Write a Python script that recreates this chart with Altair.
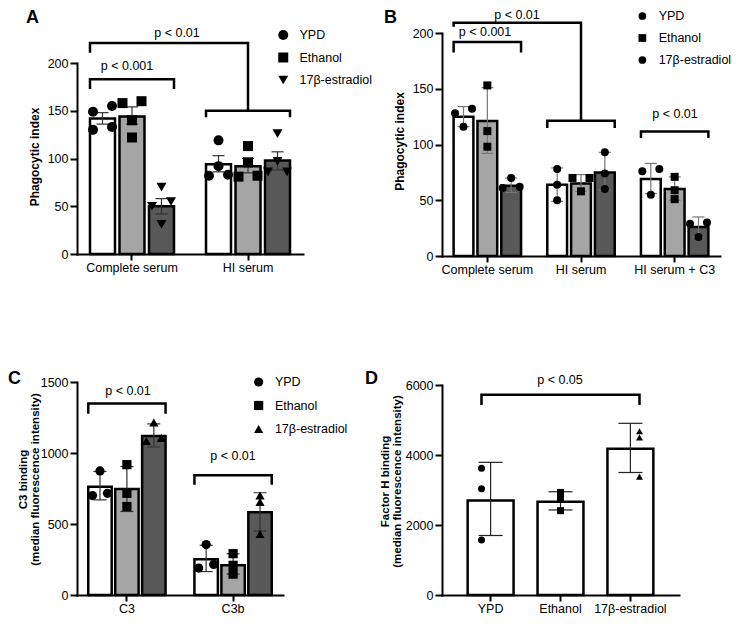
import altair as alt
import pandas as pd

FONT = "Liberation Sans"
OX, OY = 8, 8          # page position of the view origin
W, H = 728, 609        # view size

GROUPS = ["YPD", "Ethanol", "17β-estradiol"]
BAR_FILLS = ["#ffffff", "#a5a5a5", "#585858"]

# ---------------- data ----------------
# Panel A : phagocytic index (mean, error ends, individual points)
A_CATS = ["Complete serum", "HI serum"]
A_MEAN = [[142, 144, 50], [94, 92, 98]]
A_LO = [[136, 136, 42], [86, 85, 88]]
A_HI = [[148, 154, 58], [103, 100, 107]]
A_PTS = [[[149, 155, 130, 133], [158, 160, 140, 122], [70, 55, 50, 31]],
         [[119, 92, 82, 83], [113, 96, 82, 81], [126, 97, 86, 86]]]

# Panel B
B_CATS = ["Complete serum", "HI serum", "HI serum + C3"]
B_MEAN = [[125, 121, 63], [64, 65, 75], [69, 60, 26]]
B_LO = [[116, 92, 57], [49, 58, 59], [56, 50, 17]]
B_HI = [[134, 151, 70], [79, 73, 93], [83, 71, 35]]
B_PTS = [[[132, 128, 116], [153, 112, 98], [70, 61, 62]],
         [[78, 64, 50], [70, 70, 58], [93, 74, 60]],
         [[78, 76, 55], [71, 59, 51], [30, 29, 17]]]

# Panel C : C3 binding
C_CATS = ["C3", "C3b"]
C_MEAN = [[763, 747, 1119], [251, 209, 583]]
C_LO = [[670, 588, 1042], [165, 147, 450]]
C_HI = [[870, 905, 1205], [350, 291, 720]]
C_PTS = [[[874, 700, 716], [918, 716, 623], [1215, 1105, 1085]],
         [[355, 215, 190], [291, 209, 147], [700, 655, 430]]]

# Panel D : factor H binding
D_MEAN = [2703, 2665, 4178]
D_LO = [1700, 2430, 3500]
D_HI = [3790, 2950, 4905]
D_PTS = [[3620, 3034, 1569], [2930, 2741, 2410], [4679, 4499, 3383]]

# significance brackets (data units): (cat1, group1, cat2, group2, top, leg1, leg2)
A_BR = [("Complete serum", "YPD", "Complete serum", "17β-estradiol", 183, 174, 174),
        ("Complete serum", "YPD", "HI serum", "Ethanol", 221, 212, 150),
        ("HI serum", "YPD", "HI serum", "17β-estradiol", 150, 144.5, 144.5)]
A_TXT = [("p < 0.001", 192.7), ("p < 0.01", 227.5)]
B_BR = [("Complete serum", "YPD", "Complete serum", "17β-estradiol", 192, 183.6, 183.6),
        ("Complete serum", "YPD", "HI serum", "Ethanol", 209.3, 206.7, 121.3),
        ("HI serum", "YPD", "HI serum", "17β-estradiol", 121.3, 116, 116),
        ("HI serum + C3", "YPD", "HI serum + C3", "17β-estradiol", 111.7, 107, 107)]
B_TXT = [("p < 0.001", 197.7), ("p < 0.01", 212.9), ("p < 0.01", 124)]
C_BR = [("C3", "YPD", "C3", "17β-estradiol", 1349, 1286, 1286),
        ("C3b", "YPD", "C3b", "17β-estradiol", 844, 786, 786)]
C_TXT = [("p < 0.01", 1410), ("p < 0.01", 949)]
D_BR = [("YPD", "17β-estradiol", 5718, 5463, 5463)]
D_TXT = [("p < 0.05", 6020)]

# ---------------- layout (page pixels) ----------------
CFG_A = dict(x0=77, x1=303, y0=254, ytop=63, ymax=200, pi=0.276, po=0.112, pi2=0.153,
             yticks=[0, 50, 100, 150, 200], title="Phagocytic index", tx=-43, ty=156.5, tfs=12,
             shapes=["circle", "square", "triangle-down"], psize=100, dx=9.5, thr=8, ppu=0.955,
             ecol="#333333", cap=12, leg=(282, 35, 22, 100), txt_x=[127, 177])
CFG_B = dict(x0=442, x1=720, y0=256, ytop=33, ymax=200, pi=0.28, po=0.124, pi2=0.17,
             yticks=[0, 50, 100, 150, 200], title="Phagocytic index", tx=-42.5, ty=141, tfs=12,
             shapes=["circle", "square", "circle"], psize=64, dx=8.5, thr=7, ppu=1.113,
             ecol="#777777", cap=12, leg=(640, 16, 21.5, 60), txt_x=[485, 517, 675])
CFG_C = dict(x0=77, x1=283, y0=595, ytop=382, ymax=1500, pi=0.272, po=0.106, pi2=0.13,
             yticks=[0, 500, 1000, 1500], title=["C3 binding", "(median fluorescence intensity)"],
             tx=-54, ty=479, tfs=11.5,
             shapes=["circle", "square", "triangle-up"], psize=85, dx=7.5, thr=5, ppu=0.1433,
             ecol="#333333", cap=13, leg=(257, 382, 23, 85), txt_x=[128, 233])
CFG_D = dict(x0=442, x1=679, y0=595, ytop=385, ymax=6000, pi=0.343, po=0.367,
             yticks=[0, 2000, 4000, 6000], title=["Factor H binding", "(median fluorescence intensity)"],
             tx=-57, ty=481, tfs=11.5, shapes=["circle", "square", "triangle-up"], psize=49,
             ecol="#222222", cap=24, txt_x=[560])


def px(x):
    return x - OX


def py(y):
    return y - OY


def slots(values, ppu, thr):
    """Spread points that would overlap side by side, like a scatter-dot plot."""
    order = sorted(range(len(values)), key=lambda i: values[i])
    res = [0] * len(values)
    clusters, cur = [], [order[0]]
    for i in order[1:]:
        if (values[i] - values[cur[-1]]) * ppu < thr:
            cur.append(i)
        else:
            clusters.append(cur)
            cur = [i]
    clusters.append(cur)
    pats = {1: [0], 2: [-1, 1], 3: [-1, 0, 1], 4: [-1, 0, 1, 0]}
    for c in clusters:
        for idx, s in zip(c, pats[len(c)]):
            res[idx] = s
    return res


def axes(cfg):
    xaxis = alt.Axis(orient="bottom", offset=py(cfg["y0"]) - H, title=None, labelAngle=0,
                     labelPadding=1, tickSize=6)
    yaxis = alt.Axis(orient="left", offset=-px(cfg["x0"]), values=cfg["yticks"], format="d",
                     title=cfg["title"], titleX=cfg["tx"], titleY=py(cfg["ty"]), titleAngle=270,
                     titleAlign="center", titleBaseline="middle", titleFontSize=cfg["tfs"],
                     titleFontWeight="bold", titleLineHeight=12.5, labelPadding=2, tickSize=7)
    return xaxis, yaxis


def text_layers(labels, cfg, ys):
    out = []
    for (txt, val), xp in zip(labels, cfg["txt_x"]):
        out.append(alt.Chart(pd.DataFrame({"t": [txt]})).mark_text(
            font=FONT, fontSize=12.5, align="center", baseline="alphabetic", color="black"
        ).encode(text="t:N", x=alt.value(px(xp)), y=alt.YDatum(val, scale=ys, axis=None)))
    return out


def legend_for(cfg):
    lx, ly, row, lsize = cfg["leg"]
    d = lsize ** 0.5
    return alt.Legend(orient="none", legendX=px(lx) - d / 2, legendY=py(ly) - 6.25, title=None,
                      symbolSize=lsize, rowPadding=row - 12.5, labelOffset=10,
                      labelFontSize=12.5, labelFont=FONT, labelColor="black",
                      symbolFillColor="black", symbolStrokeWidth=0, padding=0)


def grouped_panel(cats, mean, lo, hi, pts, brackets, labels, cfg):
    n = len(cats)
    step = (cfg["x1"] - cfg["x0"]) / (n - cfg["pi"] + 2 * cfg["po"])
    bw = step * (1 - cfg["pi"])
    step2 = bw / (3 - cfg["pi2"])
    c0 = step2 * (1 - cfg["pi2"]) / 2
    jit = cfg["dx"] / step2

    bdf = pd.DataFrame([dict(cat=c, group=g, mean=mean[i][j], lo=lo[i][j], hi=hi[i][j])
                        for i, c in enumerate(cats) for j, g in enumerate(GROUPS)])
    prow = []
    for i, c in enumerate(cats):
        for j, g in enumerate(GROUPS):
            vals = pts[i][j]
            for v, s in zip(vals, slots(vals, cfg["ppu"], cfg["thr"])):
                prow.append(dict(cat=c, group=g, value=v, pos=j + s * jit))
    pdf = pd.DataFrame(prow)
    brow = []
    for k, (c1, g1, c2, g2, top, l1, l2) in enumerate(brackets):
        for o, (c, g, v) in enumerate([(c1, g1, l1), (c1, g1, top), (c2, g2, top), (c2, g2, l2)]):
            brow.append(dict(bid=k, ord=o, cat=c, group=g, value=v))
    brdf = pd.DataFrame(brow)

    xs = alt.Scale(domain=cats, range=[px(cfg["x0"]), px(cfg["x1"])],
                   paddingInner=cfg["pi"], paddingOuter=cfg["po"])
    xos = alt.Scale(domain=GROUPS, paddingInner=cfg["pi2"], paddingOuter=0)
    ys = alt.Scale(domain=[0, cfg["ymax"]], range=[py(cfg["y0"]), py(cfg["ytop"])], nice=False)
    xaxis, yaxis = axes(cfg)

    def X(ax=None):
        return alt.X("cat:N", scale=xs, axis=ax)

    def XO():
        return alt.XOffset("group:N", scale=xos)

    bars = alt.Chart(bdf).mark_bar(stroke="black", strokeWidth=2.5).encode(
        x=X(xaxis), xOffset=XO(), y=alt.Y("mean:Q", scale=ys, axis=yaxis),
        fill=alt.Fill("group:N", scale=alt.Scale(domain=GROUPS, range=BAR_FILLS), legend=None))
    err = alt.Chart(bdf).mark_rule(color=cfg["ecol"], strokeWidth=1.2).encode(
        x=X(), xOffset=XO(), y=alt.Y("lo:Q", scale=ys, axis=None), y2="hi:Q")
    cap_lo = alt.Chart(bdf).mark_tick(orient="horizontal", size=cfg["cap"], thickness=1.2,
                                      color=cfg["ecol"], opacity=1).encode(
        x=X(), xOffset=XO(), y=alt.Y("lo:Q", scale=ys, axis=None))
    cap_hi = alt.Chart(bdf).mark_tick(orient="horizontal", size=cfg["cap"], thickness=1.2,
                                      color=cfg["ecol"], opacity=1).encode(
        x=X(), xOffset=XO(), y=alt.Y("hi:Q", scale=ys, axis=None))
    points = alt.Chart(pdf).mark_point(
        filled=True, color="black", size=cfg["psize"], opacity=1, strokeWidth=0
    ).encode(
        x=alt.X("cat:N", scale=xs, axis=None, bandPosition=0),
        xOffset=alt.XOffset("pos:Q", scale=alt.Scale(domain=[0, 2], range=[c0, c0 + 2 * step2])),
        y=alt.Y("value:Q", scale=ys, axis=None),
        shape=alt.Shape("group:N", scale=alt.Scale(domain=GROUPS, range=cfg["shapes"]),
                        legend=legend_for(cfg)))
    br = alt.Chart(brdf).mark_line(color="black", strokeWidth=2.5, strokeCap="square",
                                   strokeJoin="miter").encode(
        x=X(), xOffset=XO(), y=alt.Y("value:Q", scale=ys, axis=None), detail="bid:N", order="ord:Q")
    return [bars, err, cap_lo, cap_hi, points, br] + text_layers(labels, cfg, ys)


def simple_panel(mean, lo, hi, pts, brackets, labels, cfg):
    bdf = pd.DataFrame([dict(group=g, mean=mean[j], lo=lo[j], hi=hi[j]) for j, g in enumerate(GROUPS)])
    pdf = pd.DataFrame([dict(group=g, value=v) for j, g in enumerate(GROUPS) for v in pts[j]])
    brow = []
    for k, (g1, g2, top, l1, l2) in enumerate(brackets):
        for o, (g, v) in enumerate([(g1, l1), (g1, top), (g2, top), (g2, l2)]):
            brow.append(dict(bid=k, ord=o, group=g, value=v))
    brdf = pd.DataFrame(brow)
    xs = alt.Scale(domain=GROUPS, range=[px(cfg["x0"]), px(cfg["x1"])],
                   paddingInner=cfg["pi"], paddingOuter=cfg["po"])
    ys = alt.Scale(domain=[0, cfg["ymax"]], range=[py(cfg["y0"]), py(cfg["ytop"])], nice=False)
    xaxis, yaxis = axes(cfg)

    def X(ax=None):
        return alt.X("group:N", scale=xs, axis=ax)

    bars = alt.Chart(bdf).mark_bar(fill="white", stroke="black", strokeWidth=2.5).encode(
        x=X(xaxis), y=alt.Y("mean:Q", scale=ys, axis=yaxis))
    err = alt.Chart(bdf).mark_rule(color=cfg["ecol"], strokeWidth=1.2).encode(
        x=X(), y=alt.Y("lo:Q", scale=ys, axis=None), y2="hi:Q")
    cap_lo = alt.Chart(bdf).mark_tick(orient="horizontal", size=cfg["cap"], thickness=1.2,
                                      color=cfg["ecol"], opacity=1).encode(
        x=X(), y=alt.Y("lo:Q", scale=ys, axis=None))
    cap_hi = alt.Chart(bdf).mark_tick(orient="horizontal", size=cfg["cap"], thickness=1.2,
                                      color=cfg["ecol"], opacity=1).encode(
        x=X(), y=alt.Y("hi:Q", scale=ys, axis=None))
    points = alt.Chart(pdf).mark_point(filled=True, color="black", size=cfg["psize"], opacity=1,
                                       strokeWidth=0).encode(
        x=X(), y=alt.Y("value:Q", scale=ys, axis=None),
        shape=alt.Shape("group:N", scale=alt.Scale(domain=GROUPS, range=cfg["shapes"]), legend=None))
    br = alt.Chart(brdf).mark_line(color="black", strokeWidth=2.5, strokeCap="square",
                                   strokeJoin="miter").encode(
        x=X(), y=alt.Y("value:Q", scale=ys, axis=None), detail="bid:N", order="ord:Q")
    return [bars, err, cap_lo, cap_hi, points, br] + text_layers(labels, cfg, ys)


def letter(ch, x, y):
    return alt.Chart(pd.DataFrame({"t": [ch]})).mark_text(
        font=FONT, fontSize=18, fontWeight="bold", align="left", baseline="alphabetic", color="black"
    ).encode(text="t:N", x=alt.value(px(x)), y=alt.value(py(y)))


layers = (grouped_panel(A_CATS, A_MEAN, A_LO, A_HI, A_PTS, A_BR, A_TXT, CFG_A)
          + grouped_panel(B_CATS, B_MEAN, B_LO, B_HI, B_PTS, B_BR, B_TXT, CFG_B)
          + grouped_panel(C_CATS, C_MEAN, C_LO, C_HI, C_PTS, C_BR, C_TXT, CFG_C)
          + simple_panel(D_MEAN, D_LO, D_HI, D_PTS, D_BR, D_TXT, CFG_D)
          + [letter("A", 26, 23), letter("B", 384, 23), letter("C", 8, 384), letter("D", 365, 384)])

chart = alt.layer(*layers).resolve_scale(
    x="independent", y="independent", xOffset="independent", shape="independent", fill="independent"
).resolve_axis(x="independent", y="independent").resolve_legend(shape="independent").properties(
    width=W, height=H, padding=0, autosize="none"
).configure_view(stroke=None).configure_axis(
    labelFont=FONT, titleFont=FONT, labelColor="black", titleColor="black", domainColor="black",
    tickColor="black", domainWidth=2, tickWidth=2, grid=False, labelFontSize=12.5, domainCap="square"
)

chart.save("out.html", embed_options={"renderer": "svg", "actions": False})
